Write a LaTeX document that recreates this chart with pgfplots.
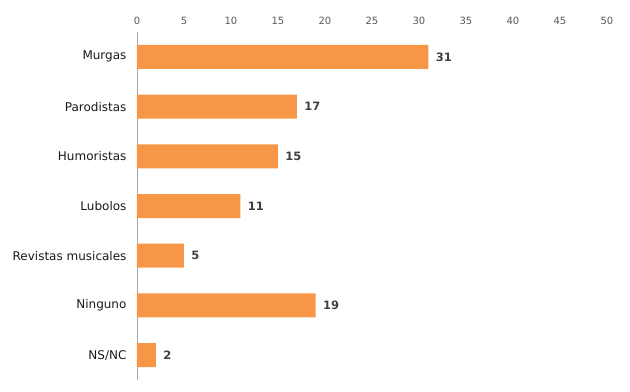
\documentclass[border=0pt]{standalone}
\usepackage{pgfplots}
\pgfplotsset{compat=1.18}
\usepackage{fontspec}
\setmainfont{DejaVu Sans}
\definecolor{barorange}{HTML}{F79646}
\definecolor{tickgray}{HTML}{595959}
\definecolor{valgray}{HTML}{404040}
\definecolor{axgray}{HTML}{A6A6A6}
\begin{document}
\begin{tikzpicture}
\begin{axis}[
  scale only axis,
  width=470bp, height=348bp,
  xbar, bar width=24bp,
  xmin=0, xmax=50, ymin=-0.5, ymax=6.5,
  y dir=reverse,
  clip=false,
  xtick={0,5,...,50},
  ytick={0,...,6},
  yticklabels={Murgas,Parodistas,Humoristas,Lubolos,Revistas musicales,Ninguno,NS/NC},
  axis x line*=top,
  axis y line*=left,
  x axis line style={draw=none},
  y axis line style={draw=axgray, line width=0.8bp},
  major tick length=0pt,
  xticklabel style={font=\fontsize{10bp}{12bp}\selectfont, text=tickgray, yshift=4bp},
  yticklabel style={font=\fontsize{12bp}{14bp}\selectfont, text=black!90, xshift=-7bp},
  /pgf/number format/assume math mode=true,
  nodes near coords,
  nodes near coords style={font=\bfseries\fontsize{11.5bp}{13bp}\selectfont, text=valgray, anchor=west, xshift=4bp},
]
\addplot[fill=barorange, draw=none] coordinates {
(31,0) (17,1) (15,2) (11,3) (5,4) (19,5) (2,6)
};
\path (axis cs:-14.57,-1.144) rectangle (axis cs:52.45,6.721);
\end{axis}
\end{tikzpicture}
\end{document}
